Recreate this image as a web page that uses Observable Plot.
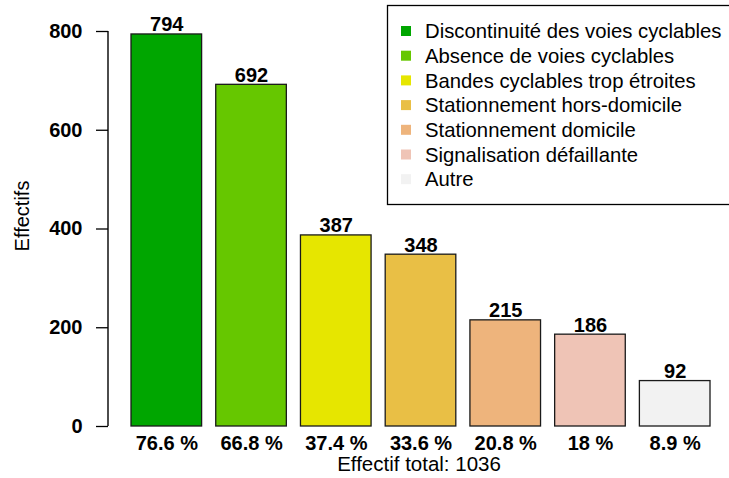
<!DOCTYPE html>
<html><head><meta charset="utf-8">
<script src="https://cdn.jsdelivr.net/npm/d3@7"></script>
<script src="https://cdn.jsdelivr.net/npm/@observablehq/plot@0.6"></script>
<style>
body{margin:0;background:#fff;}
#wrap{position:relative;width:729px;height:478px;overflow:hidden;background:#fff;}
#legend{position:absolute;left:387px;top:5px;}
</style>
</head><body>
<div id="wrap"><div id="chart"></div><div id="legend"></div></div>
<script>
const categories = ["Discontinuité des voies cyclables","Absence de voies cyclables","Bandes cyclables trop étroites","Stationnement hors-domicile","Stationnement domicile","Signalisation défaillante","Autre"];
const values = [794, 692, 387, 348, 215, 186, 92];
const percentLabels = ["76.6 %","66.8 %","37.4 %","33.6 %","20.8 %","18 %","8.9 %"];
const colors = ["#00A600","#66C700","#E6E600","#E9BF45","#EEB47C","#EFC4B6","#F2F2F2"];
const yTicks = [0, 200, 400, 600, 800];
const total = 1036;
const yLabel = "Effectifs";
const caption = "Effectif total: " + total;

const font = "'Liberation Sans', Arial, Helvetica, sans-serif";
const data = categories.map((c, i) => ({cat: c, value: values[i], pct: percentLabels[i]}));
const pctOf = new Map(categories.map((c, i) => [c, percentLabels[i]]));

// y axis line, drawn from the plot's own y scale
const axisLine = (index, scales, values, dimensions) =>
  d3.create("svg:line")
    .attr("x1", dimensions.marginLeft).attr("x2", dimensions.marginLeft)
    .attr("y1", scales.y(yTicks[0])).attr("y2", scales.y(yTicks[yTicks.length - 1]))
    .attr("stroke", "#000").attr("stroke-width", 1.4).node();

const chart = Plot.plot({
  width: 729,
  height: 478,
  marginTop: 31,
  marginBottom: 52,
  marginLeft: 108,
  marginRight: 0,
  style: {fontFamily: font, background: "#fff", color: "#000"},
  x: {type: "band", domain: categories, range: [131, 710], paddingInner: 0.2/1.2, paddingOuter: 0, align: 0.5, round: false},
  y: {domain: [0, 800]},
  color: {domain: categories, range: colors},
  marks: [
    Plot.barY(data, {x: "cat", y: "value", fill: "cat", stroke: "#1a1a1a", strokeWidth: 1.3}),
    Plot.text(data, {x: "cat", y: "value", text: d => String(d.value), lineAnchor: "bottom", dy: -3, fontWeight: "bold", fontSize: 20, fill: "#000"}),
    Plot.axisX({tickSize: 0, tickPadding: 9, tickFormat: d => pctOf.get(d), fontWeight: "bold", fontSize: 20, label: null, fill: "#000"}),
    Plot.axisY({ticks: yTicks, tickSize: 12, tickPadding: 14, fontWeight: "bold", fontSize: 20, label: null, stroke: "#000", strokeWidth: 1.3, fill: "#000"}),
    axisLine,
    Plot.text([yLabel], {frameAnchor: "left", textAnchor: "middle", dx: -86, dy: -13, rotate: -90, fontSize: 20, fill: "#000"}),
    Plot.text([caption], {frameAnchor: "bottom", dy: 44, fontSize: 20.5, fill: "#000"})
  ]
});
document.getElementById("chart").appendChild(chart);

// Legend (box extends past the right edge like the reference)
const lw = 360, lh = 200;
const lsvg = d3.select("#legend").append("svg").attr("width", lw).attr("height", lh)
  .style("font-family", font).style("overflow", "visible");
lsvg.append("rect").attr("x", 0.5).attr("y", 0.5).attr("width", lw).attr("height", lh - 1)
  .attr("fill", "#fff").attr("stroke", "#000").attr("stroke-width", 1.3);
const rows = lsvg.selectAll("g").data(categories).join("g")
  .attr("transform", (d, i) => `translate(0,${26 + i * 24.7})`);
rows.append("rect").attr("x", 14).attr("y", -5).attr("width", 10).attr("height", 10)
  .attr("fill", (d, i) => colors[i]);
rows.append("text").attr("x", 38).attr("y", 0).attr("dy", "0.35em")
  .attr("font-size", 20.3).attr("fill", "#000").text(d => d);
</script>
</body></html>
